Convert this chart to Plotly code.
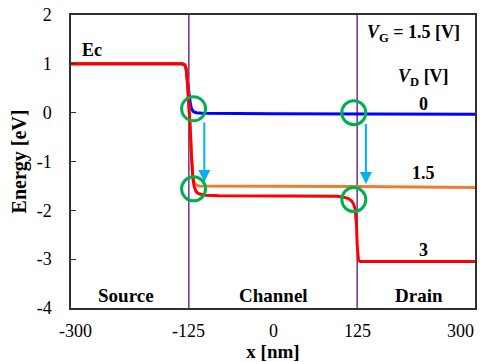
import plotly.graph_objects as go

# ---- data ----
x_vd0 = [-300, -135, -131, -129, -127, -125, -123, -121, -118, -114, -105, 0, 125, 300]
y_vd0 = [1.0, 1.0, 0.98, 0.9, 0.65, 0.4, 0.2, 0.08, 0.02, 0.0, -0.01, -0.02, -0.02, -0.03]

x_vd15 = [-300, -135, -131, -129, -127, -125, -123, -121, -119, -117, -114, -110, 0, 125, 300]
y_vd15 = [1.0, 1.0, 0.98, 0.9, 0.6, 0.2, -0.3, -0.9, -1.3, -1.44, -1.48, -1.5, -1.5, -1.51, -1.53]

x_vd3 = [-300, -135, -131, -129, -127, -125, -123, -121, -119, -117, -114, -110, -100, -80, 0, 80, 95,
         105, 112, 117, 120, 122, 124, 125, 126, 127, 130, 300]
y_vd3 = [1.0, 1.0, 0.98, 0.9, 0.6, 0.2, -0.3, -0.9, -1.35, -1.52, -1.62, -1.66, -1.69, -1.70, -1.70,
         -1.70, -1.71, -1.73, -1.76, -1.81, -1.88, -1.98, -2.3, -2.7, -2.95, -3.03, -3.05, -3.05]

circle_x = [-118, -118, 120, 120]
circle_y = [0.08, -1.56, 0.0, -1.78]

arrow_x = [-102, 138]
arrow_from = [-0.17, -0.2]
arrow_to = [-1.42, -1.46]

gate_x = [-125, 125]
x_ticks = [-300, -125, 0, 125, 300]
x_tick_labels = ["-300", "-125", "0", "125", "300"]
y_ticks = [-4, -3, -2, -1, 0, 1, 2]
y_tick_labels = ["-4", "-3", "-2", "-1", "0", "1", "2"]

region_labels = ["Source", "Channel", "Drain"]
region_x = [-218, 0, 217]
vd_labels = ["0", "1.5", "3"]
vd_label_y = [0.17, -1.23, -2.81]

SERIF = "Liberation Serif, Times New Roman, serif"

fig = go.Figure()
fig.add_trace(go.Scatter(x=x_vd0, y=y_vd0, mode="lines", line=dict(color="#0000FF", width=3)))
fig.add_trace(go.Scatter(x=x_vd15, y=y_vd15, mode="lines", line=dict(color="#ED7D31", width=3)))
fig.add_trace(go.Scatter(x=x_vd3, y=y_vd3, mode="lines", line=dict(color="#FF0000", width=3)))
fig.add_trace(go.Scatter(x=circle_x, y=circle_y, mode="markers",
                         marker=dict(symbol="circle-open", size=24, color="#00B050",
                                     line=dict(width=3, color="#00B050"))))

for gx in gate_x:
    fig.add_shape(type="line", x0=gx, x1=gx, y0=0, y1=1, xref="x", yref="paper",
                  line=dict(color="#7030A0", width=1.5), layer="below")

for ax_, y0, y1 in zip(arrow_x, arrow_from, arrow_to):
    fig.add_annotation(x=ax_, y=y1, ax=ax_, ay=y0, xref="x", yref="y", axref="x", ayref="y",
                       text="", showarrow=True, arrowhead=2, arrowsize=1.2, arrowwidth=2,
                       arrowcolor="#00B0F0", standoff=0)

txt = dict(family=SERIF, size=18, color="black")
fig.add_annotation(x=-287, y=1.28, text="<b>Ec</b>", showarrow=False, xanchor="left", font=txt)
fig.add_annotation(x=209, y=1.62, text="<b><i>V</i><sub>G</sub> = 1.5 [V]</b>", showarrow=False, font=txt)
fig.add_annotation(x=224, y=0.72, text="<b><i>V</i><sub>D</sub> [V]</b>", showarrow=False, font=txt)
for lab, ly in zip(vd_labels, vd_label_y):
    fig.add_annotation(x=224, y=ly, text="<b>" + lab + "</b>", showarrow=False, font=txt)
for lab, lx in zip(region_labels, region_x):
    fig.add_annotation(x=lx, y=-3.75, text="<b>" + lab + "</b>", showarrow=False,
                       font=dict(family=SERIF, size=19, color="black"))

# x tick labels (Excel-style: end labels kept inside the figure)
for i, (tv, tl) in enumerate(zip(x_ticks, x_tick_labels)):
    shift = 4 if i == 0 else (-15 if i == len(x_ticks) - 1 else 0)
    fig.add_annotation(x=tv, y=0, xref="x", yref="paper", yanchor="top", yshift=-11, xshift=shift,
                       text=tl, showarrow=False, font=dict(family=SERIF, size=18, color="black"))

# the page body adds an 8px offset, so the figure is sized/margined to compensate
fig.update_layout(
    width=481, height=354,
    margin=dict(l=63, r=14, t=7, b=54),
    paper_bgcolor="white", plot_bgcolor="white",
    showlegend=False,
    font=dict(family=SERIF, size=18, color="black"),
)
fig.update_xaxes(range=[-300, 300], tickvals=x_ticks, showticklabels=False, automargin=False,
                 showgrid=False, zeroline=False, showline=True, linecolor="#303030", linewidth=1.5,
                 mirror=True, ticks="",
                 title=dict(text="<b>x [nm]</b>", font=dict(family=SERIF, size=19), standoff=37))
fig.update_yaxes(range=[-4, 2], tickvals=y_ticks, ticktext=y_tick_labels, automargin=False,
                 showgrid=False, zeroline=False, ticklabeloverflow="allow",
                 showline=True, linecolor="#303030", linewidth=1.5, mirror=True,
                 ticks="inside", ticklen=5, tickcolor="#303030", ticklabelstandoff=14,
                 tickfont=dict(family=SERIF, size=18),
                 title=dict(text="<b>Energy [eV]</b>", font=dict(family=SERIF, size=20), standoff=6))

fig.write_html("out.html")
